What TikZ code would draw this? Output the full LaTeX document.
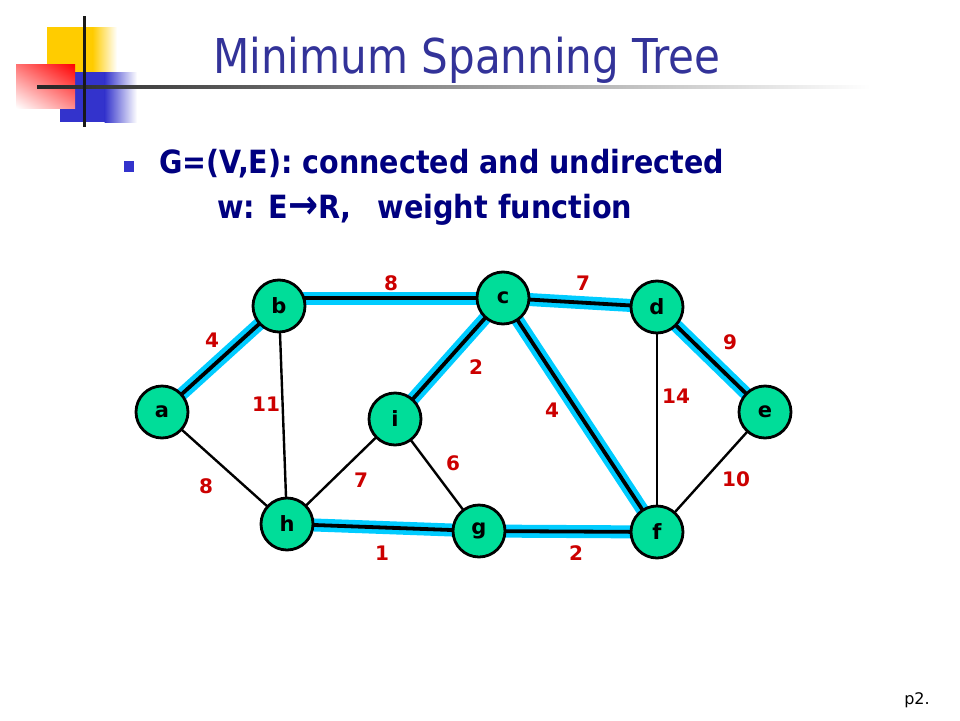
\documentclass[tikz,border=0pt]{standalone}
\usepackage{fontspec}
\setmainfont{DejaVu Sans}
\usepackage{graphicx}
\usetikzlibrary{shadings}
\pgfdeclarelayer{bglayer}
\pgfdeclarelayer{edgelayer}
\pgfsetlayers{bglayer,edgelayer,main}
\definecolor{titleblue}{RGB}{51,51,153}
\definecolor{bodyblue}{RGB}{0,0,128}
\definecolor{bulletblue}{RGB}{51,51,204}
\definecolor{logoyellow}{RGB}{255,204,0}
\definecolor{logored}{RGB}{255,0,0}
\definecolor{logoblue}{RGB}{51,51,204}
\definecolor{nodegreen}{RGB}{0,221,153}
\definecolor{mstcyan}{RGB}{0,204,255}
\definecolor{wred}{RGB}{204,0,0}
\begin{document}
\begin{tikzpicture}[x=1pt,y=-1pt,
  vtx/.style={circle,draw=black,line width=2.8pt,fill=nodegreen,minimum size=52pt,inner sep=0pt,
    font=\fontsize{21}{23}\selectfont\bfseries},
  wlab/.style={text=wred,inner sep=0pt,font=\fontsize{20}{22}\selectfont\bfseries},
  mstband/.style={draw=mstcyan,line width=13pt},
  mstline/.style={draw=black,line width=3.8pt},
  plainedge/.style={draw=black,line width=2.4pt}]
\useasboundingbox (0,0) rectangle (960,720);
\begin{pgfonlayer}{bglayer}
\fill[white] (0,0) rectangle (960,720);
\end{pgfonlayer}
% logo
\fill[logoyellow] (47,27) rectangle (93,72);
\shade[left color=logoyellow,right color=white] (92.5,27) rectangle (117,72);
\fill[logoblue] (60,72) rectangle (105,122);
\shade[left color=logoblue,right color=white] (104.5,72) rectangle (137,122);
\shade[upper right=logored,upper left=logored!55,lower right=logored!45,lower left=white] (16,64) rectangle (75,108);
\shade[left color=black!85,right color=white] (37,85.5) rectangle (870,88.5);
\fill[black!90] (82.5,16) rectangle (85.5,127);
% title
\node[anchor=base west,inner sep=0pt,text=titleblue] (title) at (213,73)
  {\resizebox{507pt}{\height}{\fontsize{48}{54}\selectfont Minimum Spanning Tree}};
% bullet
\fill[bulletblue] (124,161) rectangle (134,172);
\node[anchor=base west,inner sep=0pt,text=bodyblue] (line1) at (159,173)
  {\resizebox{565pt}{\height}{\fontsize{32}{36}\selectfont\bfseries G=(V,E): connected and undirected}};
\node[anchor=base west,inner sep=0pt,text=bodyblue] (line2) at (217,218)
  {\resizebox{415pt}{\height}{\fontsize{32}{36}\selectfont\bfseries w: E{\fontsize{40}{40}\selectfont→}R,\hspace{0.9em}weight function}};
% nodes
\node[vtx] (a) at (162,412) {a};
\node[vtx] (b) at (279,306) {b};
\node[vtx] (c) at (503,298) {c};
\node[vtx] (d) at (657,307) {d};
\node[vtx] (e) at (765,412) {e};
\node[vtx] (f) at (657,532) {f};
\node[vtx] (g) at (479,531) {g};
\node[vtx] (h) at (287,524) {h};
\node[vtx] (i) at (395,419) {i};
% edges
\begin{pgfonlayer}{edgelayer}
\path[mstband] (b.center |- c.center) -- (c.center);
\path[mstline] (b.center |- c.center) -- (c.center);
\foreach \u/\v in {a/b,c/d,c/i,c/f,d/e,h/g,g/f}{
  \path[mstband] (\u.center) -- (\v.center);
}
\foreach \u/\v in {a/b,c/d,c/i,c/f,d/e,h/g,g/f}{
  \path[mstline] (\u.center) -- (\v.center);
}
\foreach \u/\v in {a/h,b/h,h/i,i/g,d/f,e/f}{
  \path[plainedge] (\u.center) -- (\v.center);
}
\end{pgfonlayer}
% weights
\node[wlab] (w1) at (391,283) {8};
\node[wlab] (w2) at (583,283) {7};
\node[wlab] (w3) at (212,340) {4};
\node[wlab] (w4) at (730,342) {9};
\node[wlab] (w5) at (476,367) {2};
\node[wlab] (w6) at (266,404) {11};
\node[wlab] (w7) at (676,396) {14};
\node[wlab] (w8) at (552,410) {4};
\node[wlab] (w9) at (453,463) {6};
\node[wlab] (w10) at (361,480) {7};
\node[wlab] (w11) at (206,486) {8};
\node[wlab] (w12) at (736,479) {10};
\node[wlab] (w13) at (382,553) {1};
\node[wlab] (w14) at (576,553) {2};
% page number
\node[anchor=base,inner sep=0pt,font=\fontsize{16}{18}\selectfont] (pg) at (917,704) {p2.};
\end{tikzpicture}
\end{document}
